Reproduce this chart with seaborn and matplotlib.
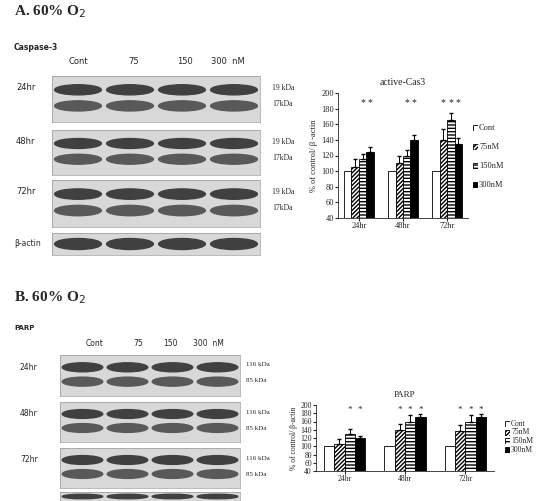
import matplotlib
matplotlib.use("Agg")
import matplotlib.pyplot as plt
import seaborn as sns
import numpy as np
import pandas as pd
from matplotlib.patches import Rectangle, Ellipse

groups = ["Cont", "75nM", "150nM", "300nM"]
times = ["24hr", "48hr", "72hr"]
cas3_vals = [[100, 105, 115, 125], [100, 110, 120, 140], [100, 140, 165, 135]]
cas3_err = [[0, 10, 7, 6], [0, 10, 7, 6], [0, 14, 10, 7]]
parp_vals = [[100, 106, 130, 120], [100, 140, 160, 170], [100, 138, 160, 170]]
parp_err = [[0, 12, 13, 6], [0, 14, 16, 9], [0, 14, 16, 9]]
cas3_stars = [[2, 3], [2, 3], [1, 2, 3]]
parp_stars = [[2, 3], [1, 2, 3], [1, 2, 3]]
lanes = ["Cont", "75", "150", "300  nM"]

sns.set_style("white")
plt.rcParams['font.family'] = ['Liberation Serif', 'DejaVu Serif']
W, H = 542, 501
fig = plt.figure(figsize=(W/100, H/100), dpi=100)

def ax_px(x, y, w, h):
    return fig.add_axes([x/W, 1-(y+h)/H, w/W, h/H])

def txt(x, y, s, **kw):
    fig.text(x/W, 1-y/H, s, va="center", **kw)

hatches = ["", "////////", "-----", ""]
faces = ["white", "white", "white", "black"]

def bars(ax, vals, errs, stars, ylo, title, ylabel, fs):
    rows = []
    for ti, t in enumerate(times):
        for gi, g in enumerate(groups):
            rows.append(dict(time=t, group=g, val=vals[ti][gi]))
    df = pd.DataFrame(rows)
    sns.barplot(data=df, x="time", y="val", hue="group", ax=ax, palette=faces,
                edgecolor="black", linewidth=0.6, width=0.68, legend=False)
    for i, p in enumerate(ax.patches):
        gi = i // 3
        ti = i % 3
        p.set_hatch(hatches[gi])
        cx = p.get_x() + p.get_width()/2
        e = errs[ti][gi]
        if e:
            ax.errorbar(cx, p.get_height(), yerr=[[0], [e]], color="black", capsize=1.5, lw=0.7)
        if gi in stars[ti]:
            ax.text(cx, 188, "*", ha="center", va="center", fontsize=fs+1)
    ax.set_ylim(ylo, 200)
    ax.set_yticks(range(ylo, 201, 20))
    ax.tick_params(labelsize=fs, length=2, pad=1, direction="out", left=True, bottom=True)
    ax.set_xlabel("")
    ax.set_ylabel(ylabel, fontsize=fs, labelpad=2)
    ax.set_title(title, fontsize=fs+1, pad=6)
    for s in ["top", "right"]:
        ax.spines[s].set_visible(False)
    for s in ["left", "bottom"]:
        ax.spines[s].set_linewidth(0.6)

def blot(x, y, w, h, n_bands, dark=0.25):
    ax = ax_px(x, y, w, h)
    ax.set_xlim(0, 4); ax.set_ylim(0, 1)
    ax.add_patch(Rectangle((0, 0), 4, 1, color="#d8d8d8"))
    ys = [0.7, 0.35] if n_bands == 2 else [0.5]
    for yy in ys:
        for k in range(4):
            ax.add_patch(Ellipse((k+0.5, yy), 0.9, 0.22 if n_bands == 2 else 0.5,
                                 color=str(dark + 0.1*(yy < 0.5))))
    ax.set_xticks([]); ax.set_yticks([])
    for s in ax.spines.values():
        s.set_linewidth(0.4); s.set_color("#888")

# Panel A
txt(14, 12, "A. 60% O$_2$", fontsize=11, fontweight="bold")
txt(14, 48, "Caspase-3", fontsize=5.5, fontweight="bold", family="DejaVu Sans")
for lx, l in zip([78, 134, 185, 228], lanes):
    txt(lx, 62, l, fontsize=6, ha="center", family="DejaVu Sans")
for (y0, h, lab) in [(76, 46, "24hr"), (130, 45, "48hr"), (180, 47, "72hr")]:
    blot(52, y0, 208, h, 2)
    txt(16, y0+12, lab, fontsize=6, family="DejaVu Sans")
    txt(272, y0+12, "19 kDa", fontsize=5.5)
    txt(272, y0+28, "17kDa", fontsize=5.5)
blot(52, 233, 208, 22, 1)
txt(14, 244, "β-actin", fontsize=5.5, family="DejaVu Sans")

axA = ax_px(338, 93, 130, 125)
bars(axA, cas3_vals, cas3_err, cas3_stars, 40, "active-Cas3", "% of control/ β -actin", 6)

# Panel B
txt(14, 298, "B. 60% O$_2$", fontsize=11, fontweight="bold")
txt(14, 328, "PARP", fontsize=5, fontweight="bold", family="DejaVu Sans")
for lx, l in zip([95, 138, 170, 208], lanes):
    txt(lx, 344, l, fontsize=5.5, ha="center", family="DejaVu Sans")
for (y0, h, lab) in [(355, 41, "24hr"), (402, 40, "48hr"), (448, 40, "72hr")]:
    blot(60, y0, 180, h, 2)
    txt(20, y0+12, lab, fontsize=5.5, family="DejaVu Sans")
    txt(246, y0+10, "116 kDa", fontsize=5)
    txt(246, y0+26, "85 kDa", fontsize=5)
blot(60, 492, 180, 9, 1)

axB = ax_px(316, 405, 178, 66)
bars(axB, parp_vals, parp_err, parp_stars, 40, "PARP", "% of control/ β-actin", 5.5)

for (lx, ly0, dy, fs) in [(473, 128, 19, 6), (505, 424, 8.5, 5.5)]:
    for gi, g in enumerate(groups):
        a = ax_px(lx, ly0 + gi*dy - 3, 5, 6)
        a.add_patch(Rectangle((0, 0), 1, 1, facecolor=faces[gi], edgecolor="black", hatch=hatches[gi], lw=0.6))
        a.set_xlim(0, 1); a.set_ylim(0, 1); a.axis("off")
        txt(lx+6, ly0 + gi*dy, g, fontsize=fs)

fig.savefig("out.png", dpi=100)
